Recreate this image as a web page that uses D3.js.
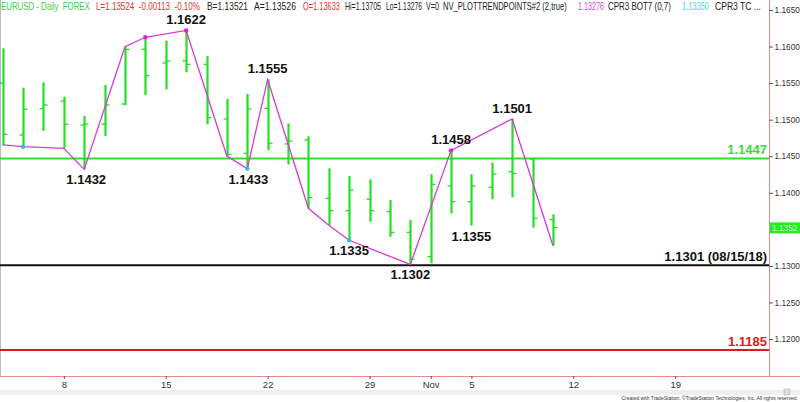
<!DOCTYPE html>
<html><head><meta charset="utf-8">
<script src="https://cdn.jsdelivr.net/npm/d3@7"></script>
<style>body{margin:0;background:#fff}svg{display:block;font-family:"Liberation Sans",Arial,sans-serif}</style>
</head><body><svg id="c" width="800" height="402"></svg>
<script>
// ---- data ----
const dates = ["10/03","10/04","10/05","10/08","10/09","10/10","10/11","10/12","10/15","10/16","10/17","10/18","10/19","10/22","10/23","10/24","10/25","10/26","10/29","10/30","10/31","11/01","11/02","11/05","11/06","11/07","11/08","11/09"];
const opens  = [1.1550,1.1479,1.1515,1.15255,1.14927,1.14937,1.15214,1.15962,1.15775,1.15802,1.15757,1.15009,1.1454,1.15155,1.14667,1.14722,1.13924,1.13755,1.13911,1.13741,1.13459,1.13126,1.14093,1.13878,1.14075,1.14288,1.14462,1.13633];
const highs  = [1.15976,1.15437,1.15511,1.15314,1.1505,1.15474,1.15998,1.16127,1.1608,1.1622,1.15871,1.15283,1.15351,1.1555,1.14948,1.14772,1.14335,1.1423,1.14184,1.13901,1.13628,1.14253,1.1458,1.14253,1.14411,1.1501,1.14472,1.13705];
const lows   = [1.14654,1.1463,1.14845,1.14608,1.1432,1.14777,1.15201,1.15337,1.15415,1.15648,1.14937,1.14503,1.1433,1.14585,1.14387,1.13788,1.13555,1.1335,1.13604,1.13399,1.1302,1.13035,1.13719,1.1355,1.13911,1.13938,1.13522,1.13276];
const closes = [1.1480,1.15142,1.15201,1.14937,1.14941,1.15201,1.15962,1.15601,1.15802,1.15757,1.15027,1.14526,1.15146,1.14677,1.14708,1.13933,1.13755,1.14038,1.13755,1.13459,1.1309,1.14116,1.13878,1.14093,1.14257,1.14266,1.13651,1.13524];
// zigzag trend points
const zigIdx   = [0,1,3,4,6,7,9,11,12,13,15,16,17,20,22,25,27];
const zigPrice = [1.14654,1.1463,1.14608,1.1432,1.15998,1.16127,1.1622,1.14503,1.1433,1.1555,1.13788,1.13555,1.1335,1.1302,1.1458,1.1501,1.13276];
const cyanDots = [1,12,17];
const magentaDots = [7,9,22];
// swing labels
const swingIdx  = [9,13,4,12,17,20,22,25,23];
const swingText = ["1.1622","1.1555","1.1432","1.1433","1.1335","1.1302","1.1458","1.1501","1.1355"];
const swingUp   = [true,true,false,false,false,false,true,true,false];
// horizontal levels
const levelVals   = [1.1447,1.1301,1.1185];
const levelLabels = ["1.1447","1.1301 (08/15/18)","1.1185"];
const levelColors = ["#33dd33","#111111","#e8141c"];
// axes
const yTicks = [1.1650,1.1600,1.1550,1.1500,1.1450,1.1400,1.1300,1.1250,1.1200];
const xTickIdx = [3,8,13,18,21,23,28,33];
const xTickLabels = ["8","15","22","29","Nov","5","12","19"];
const lastPrice = 1.1352;
// header segments
const hdrText  = ["EURUSD - Daily  FOREX","L=1.13524  -0.00113  -0.10%","B=1.13521","A=1.13526","O=1.13633","Hi=1.13705","Lo=1.13276","V=0","NV_PLOTTRENDPOINTS#2 (2,true)","1.13276","CPR3 BOT7 (0,7)","1.13350","CPR3 TC ..."];
const hdrColor = ["#44cc44","#e83030","#222","#222","#e83030","#222","#222","#222","#222","#e040e0","#222","#44dddd","#222"];

// ---- drawing ----
const svg = d3.select("#c");
const plotR = 769, plotB = 376;
const x = d3.scaleLinear().domain([0,37]).range([2.7, 2.7+37*20.38]);
const y = d3.scaleLinear().domain([1.1650,1.1200]).range([10,339]);
const green = "#22e022";

// frame
svg.append("line").attr("x1",0.5).attr("x2",0.5).attr("y1",0).attr("y2",plotB).attr("stroke","#bbb");
svg.append("line").attr("x1",plotR+0.5).attr("x2",plotR+0.5).attr("y1",0).attr("y2",plotB).attr("stroke","#e88a8a");
svg.append("line").attr("x1",0).attr("x2",800).attr("y1",plotB+0.5).attr("y2",plotB+0.5).attr("stroke","#e88a8a");

// levels
levelVals.forEach((v,i)=>{
  svg.append("line").attr("x1",0).attr("x2",plotR).attr("y1",y(v)).attr("y2",y(v))
    .attr("stroke",levelColors[i]).attr("stroke-width",2);
  svg.append("text").attr("x",767).attr("y",y(v)-4).attr("text-anchor","end")
    .attr("font-size",13).attr("font-weight","bold").attr("fill",levelColors[i]).text(levelLabels[i]);
});

// OHLC bars
const g = svg.append("g");
dates.forEach((d,i)=>{
  const cx = Math.round(x(i))+0.5;
  g.append("line").attr("x1",cx).attr("x2",cx).attr("y1",y(highs[i])).attr("y2",y(lows[i]))
    .attr("stroke",green).attr("stroke-width",2.2);
  g.append("line").attr("x1",cx-4).attr("x2",cx).attr("y1",y(opens[i])).attr("y2",y(opens[i]))
    .attr("stroke",green).attr("stroke-width",1.3);
  g.append("line").attr("x1",cx).attr("x2",cx+4).attr("y1",y(closes[i])).attr("y2",y(closes[i]))
    .attr("stroke",green).attr("stroke-width",1.3);
});

// zigzag
const line = d3.line().x((d,k)=>x(zigIdx[k])).y((d,k)=>y(zigPrice[k]));
svg.append("path").datum(zigIdx).attr("d",line).attr("fill","none").attr("stroke","#d63ad6").attr("stroke-width",1.3);
cyanDots.forEach(i=>{ const k=zigIdx.indexOf(i);
  svg.append("circle").attr("cx",x(i)).attr("cy",y(zigPrice[k])).attr("r",2.2).attr("fill","#38b8e8");});
magentaDots.forEach(i=>{ const k=zigIdx.indexOf(i);
  svg.append("circle").attr("cx",x(i)).attr("cy",y(zigPrice[k])).attr("r",2.2).attr("fill","#e020e0");});

// swing labels
swingIdx.forEach((i,k)=>{
  const p = swingUp[k] ? highs[i] : lows[i];
  const off = [0,0,2,1,0,0,0,0,0][k];
  svg.append("text").attr("x",x(i)+off).attr("y", swingUp[k] ? y(p)-6 : y(p)+15)
    .attr("text-anchor","middle").attr("font-size",13).attr("font-weight","bold").attr("fill","#111")
    .text(swingText[k]);
});

// right axis
const yAxis = d3.axisRight(y).tickValues(yTicks).tickFormat(d3.format(".4f")).tickSize(4).tickPadding(1.5);
const ya = svg.append("g").attr("transform",`translate(${plotR},0)`).call(yAxis);
ya.select(".domain").remove();
ya.selectAll("line").attr("stroke","#555");
ya.selectAll("text").attr("font-size",8.3).attr("fill","#333").attr("font-family","Liberation Sans, Arial, sans-serif");

// last price box
svg.append("rect").attr("x",plotR+1).attr("y",y(lastPrice)-5.5).attr("width",30).attr("height",11).attr("fill","#22ee22");
svg.append("text").attr("x",plotR+3).attr("y",y(lastPrice)+3).attr("font-size",8.3).attr("fill","#d8ffd8").text(lastPrice.toFixed(4));

// bottom axis
const xAxis = d3.axisBottom(x).tickValues(xTickIdx).tickFormat((d,k)=>xTickLabels[k]).tickSize(3).tickPadding(2);
const xa = svg.append("g").attr("transform",`translate(0,${plotB})`).call(xAxis);
xa.select(".domain").remove();
xa.selectAll("line").attr("stroke","#555");
xa.selectAll("text").attr("font-size",9.5).attr("fill","#333").attr("font-family","Liberation Sans, Arial, sans-serif");

// scrollbar strip
svg.append("rect").attr("x",0).attr("y",390).attr("width",800).attr("height",5).attr("fill","#efefef");
svg.append("rect").attr("x",784).attr("y",389).attr("width",6).attr("height",6).attr("fill","#ddd").attr("stroke","#aaa").attr("stroke-width",0.5);
svg.append("text").attr("x",798).attr("y",400).attr("text-anchor","end").attr("font-size",5).attr("fill","#333")
  .text("Created with TradeStation. ©TradeStation Technologies, Inc. All rights reserved.");

// header (segments horizontally scaled to the reference widths)
const hdrX = [1,96,207,254,303,345,386,426,443,578,608,682,715];
const hdrW = [89,104,41,42,37,36,36,13,124,26,63,27,46];
hdrText.forEach((t,i)=>{
  const el = svg.append("text").attr("x",0).attr("y",0).attr("font-size",10)
    .style("white-space","pre").attr("fill",hdrColor[i]).text(t);
  const w = el.node().getComputedTextLength();
  el.attr("transform",`translate(${hdrX[i]},10) scale(${(hdrW[i]/w).toFixed(4)},1)`);
});
</script></body></html>
